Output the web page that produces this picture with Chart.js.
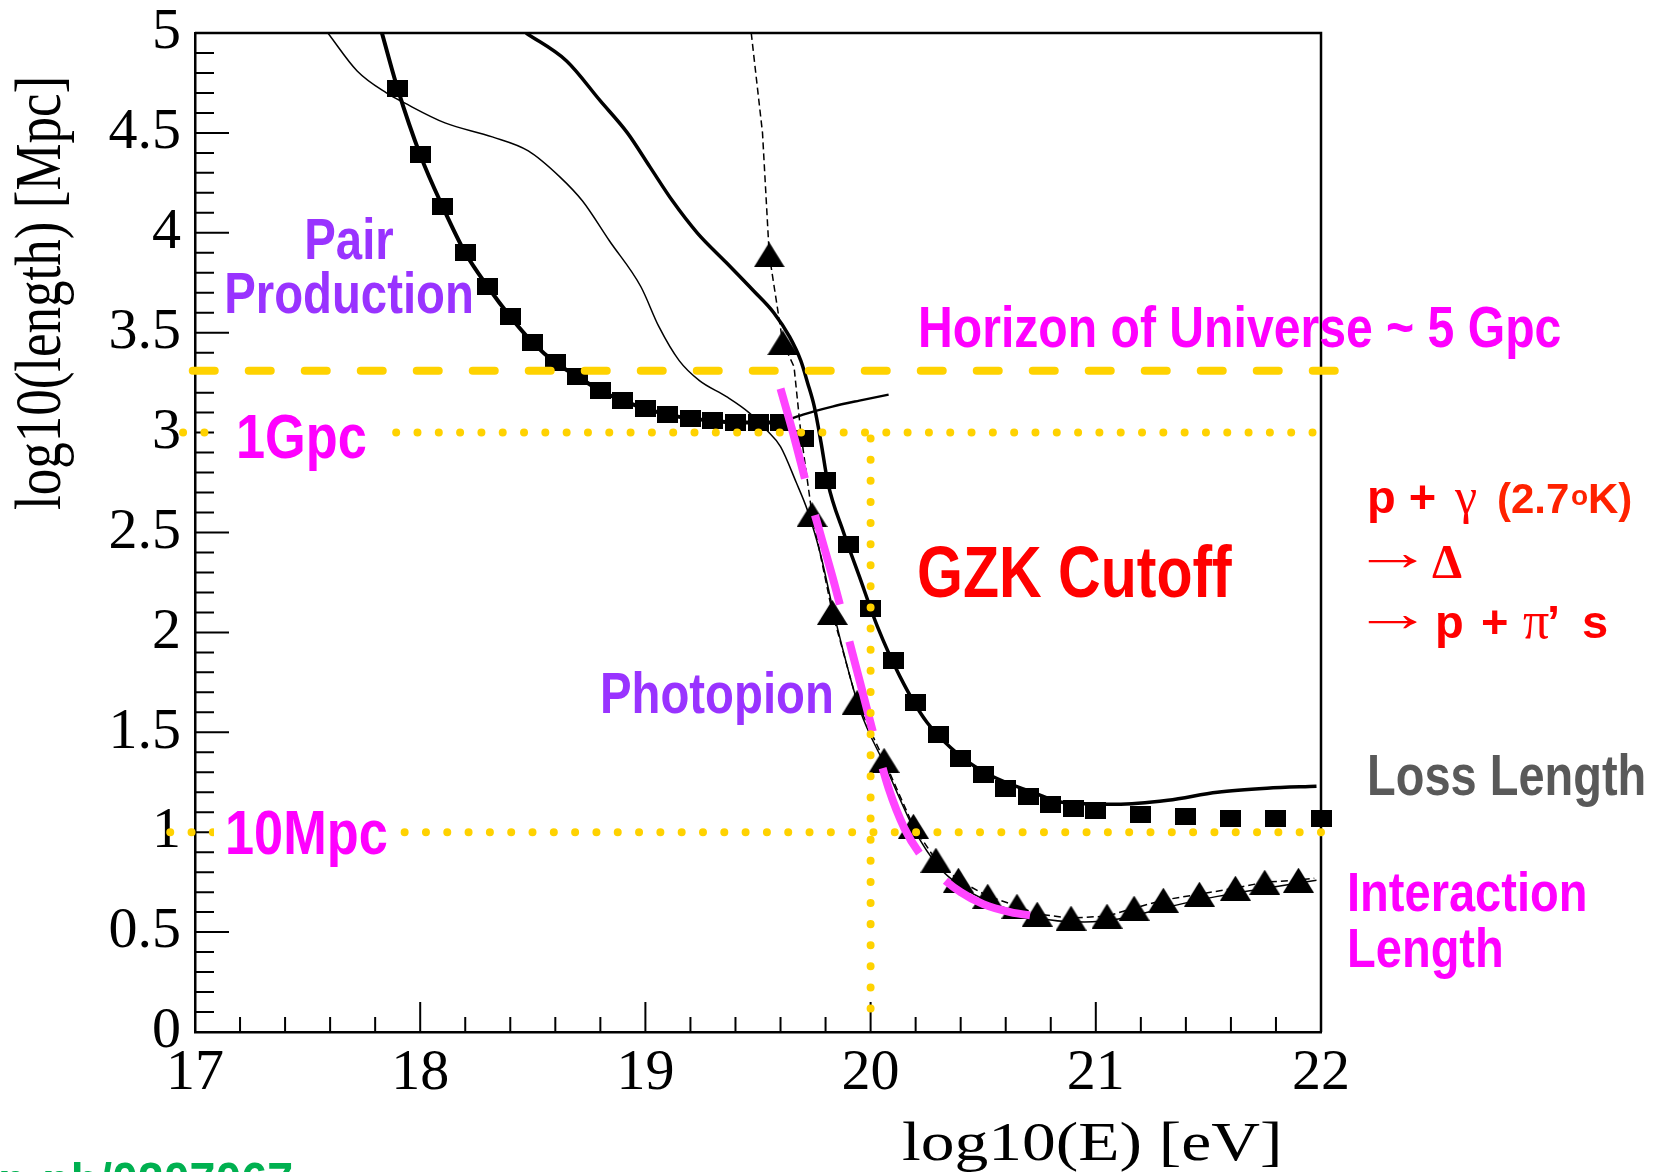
<!DOCTYPE html>
<html>
<head>
<meta charset="utf-8">
<title>GZK cutoff - loss and interaction lengths</title>
<script src="https://cdn.jsdelivr.net/npm/chart.js@4.4.1/dist/chart.umd.min.js"></script>
<style>
    html, body { margin: 0; padding: 0; background: #fff; }
    #wrap { width: 1665px; height: 1172px; }
</style>
</head>
<body>
<div id="wrap"><canvas id="gzkChart" width="1665" height="1172"></canvas></div>
<script>
// Axis ticks
const xTickValues = [17, 18, 19, 20, 21, 22];
const xTickLabels = ['17', '18', '19', '20', '21', '22'];
const yTickValues = [0, 0.5, 1, 1.5, 2, 2.5, 3, 3.5, 4, 4.5, 5];
const yTickLabels = ['0', '0.5', '1', '1.5', '2', '2.5', '3', '3.5', '4', '4.5', '5'];

// Energy loss length, square markers (log10 E, log10 L)
const lossSquareE = [17.9, 18.0, 18.1, 18.2, 18.3, 18.4, 18.5, 18.6, 18.7, 18.8, 18.9, 19.0, 19.1, 19.2, 19.3, 19.4,
    19.5, 19.6, 19.7, 19.8, 19.9, 20.0, 20.1, 20.2, 20.3, 20.4, 20.5, 20.6, 20.7, 20.8, 20.9, 21.0,
    21.2, 21.4, 21.6, 21.8, 22.0];
const lossSquareL = [4.72, 4.39, 4.13, 3.90, 3.73, 3.58, 3.45, 3.35, 3.28, 3.21, 3.16, 3.12, 3.09, 3.07, 3.06, 3.05,
    3.05, 3.05, 2.97, 2.76, 2.44, 2.12, 1.86, 1.65, 1.49, 1.37, 1.29, 1.22, 1.18, 1.14, 1.12, 1.11,
    1.09, 1.08, 1.07, 1.07, 1.07];

// Pair production loss curve: entry at the top and the rising tail after the plateau
const pairEntryE = [17.83];
const pairEntryL = [5.0];
const pairTailE = [19.6, 19.7, 19.83, 19.95, 20.08];
const pairTailL = [3.05, 3.09, 3.13, 3.16, 3.19];

// Photopion loss length (solid line)
const photoLossE = [18.47, 18.65, 18.80, 18.92, 19.02, 19.12, 19.23, 19.36, 19.48, 19.57, 19.64, 19.69, 19.72,
    19.75, 19.78, 19.81, 19.88, 19.95, 20.03, 20.13, 20.25, 20.40, 20.54, 20.72, 20.85, 21.09, 21.32,
    21.54, 21.76, 21.98];
const photoLossL = [5.0, 4.86, 4.66, 4.50, 4.33, 4.16, 4.00, 3.85, 3.71, 3.60, 3.48, 3.36, 3.25,
    3.13, 2.95, 2.75, 2.50, 2.28, 2.03, 1.78, 1.55, 1.38, 1.28, 1.20, 1.15, 1.14, 1.16,
    1.20, 1.22, 1.23];

// Thin solid line
const thinE = [17.59, 17.72, 17.85, 17.93, 18.11, 18.32, 18.48, 18.62, 18.72, 18.84, 18.98, 19.06, 19.15, 19.24,
    19.36, 19.46, 19.54, 19.60, 19.67, 19.72, 19.78, 19.84, 19.95, 20.07, 20.20, 20.30, 20.40, 20.53,
    20.66, 20.80, 20.95, 21.10, 21.30, 21.50, 21.70, 21.98];
const thinL = [5.0, 4.81, 4.70, 4.65, 4.55, 4.48, 4.41, 4.28, 4.16, 3.96, 3.73, 3.53, 3.36, 3.26,
    3.18, 3.10, 3.01, 2.93, 2.75, 2.61, 2.38, 2.08, 1.62, 1.32, 1.00, 0.83, 0.73, 0.65,
    0.60, 0.56, 0.55, 0.565, 0.62, 0.67, 0.71, 0.76];

// Interaction length, triangle markers
const interTriE = [19.55, 19.61, 19.74, 19.83, 19.94, 20.06, 20.19, 20.29, 20.39, 20.52, 20.65, 20.74, 20.89,
    21.05, 21.17, 21.30, 21.46, 21.62, 21.75, 21.90];
const interTriL = [3.89, 3.45, 2.59, 2.10, 1.65, 1.36, 1.03, 0.86, 0.76, 0.68, 0.63, 0.59, 0.57,
    0.58, 0.62, 0.66, 0.69, 0.72, 0.75, 0.76];

// Dashed line through the triangles
const dashE = [19.47, 19.52, 19.55, 19.61, 19.66, 19.69, 19.74, 19.83, 19.94, 20.06, 20.19, 20.29, 20.39,
    20.52, 20.65, 20.74, 20.89, 21.05, 21.17, 21.30, 21.46, 21.62, 21.75, 21.90, 21.97];
const dashL = [5.0, 4.50, 3.89, 3.45, 3.33, 3.00, 2.59, 2.10, 1.65, 1.36, 1.03, 0.86, 0.76,
    0.68, 0.63, 0.59, 0.57, 0.58, 0.62, 0.66, 0.69, 0.72, 0.75, 0.76, 0.77];

// Magenta guide along the photopion drop
const gzkGuideE = [19.60, 19.66, 19.72, 19.78, 19.84, 19.90, 19.96, 20.02, 20.08, 20.15, 20.22, 20.30, 20.40,
    20.50, 20.62, 20.73];
const gzkGuideL = [3.22, 2.98, 2.72, 2.48, 2.24, 1.98, 1.72, 1.46, 1.22, 1.02, 0.89, 0.79, 0.70,
    0.64, 0.60, 0.58];

// Reference lines
const horizonE = [16.99, 22.08];
const horizonL = [3.31, 3.31];
const gpcE = [16.947, 21.97];
const gpcL = [3.0, 3.0];
const mpcE = [16.89, 22.03];
const mpcL = [1.0, 1.0];
const cutoffE = [20.0, 20.0];
const cutoffL = [2.97, 0.08];

const pts = (xs, ys) => xs.map((x, i) => ({ x: x, y: ys[i] }));

// Marker images (the plot is wider than tall, so markers are too)
function makeMarker(kind, w, h) {
    const c = document.createElement('canvas');
    c.width = w;
    c.height = h;
    const g = c.getContext('2d');
    g.fillStyle = '#000';
    if (kind === 'rect') {
        g.fillRect(0, 0, w, h);
    } else {
        g.beginPath();
        g.moveTo(w / 2, 0);
        g.lineTo(w, h);
        g.lineTo(0, h);
        g.closePath();
        g.fill();
    }
    return c;
}

const colors = {
    yellow: '#FFD200',
    magentaLine: '#FF44FF',
    magenta: '#FF00FF',
    purple: '#9933FF',
    red: '#FF0000',
    gray: '#595959',
    green: '#00B050'
};

const SANS = '"Liberation Sans", Arial, sans-serif';
const SERIF = '"Liberation Serif", "Times New Roman", serif';

function drawText(ctx, text, x, y, font, color, sx, align) {
    ctx.save();
    ctx.font = font;
    ctx.fillStyle = color;
    ctx.textBaseline = 'alphabetic';
    ctx.textAlign = align || 'left';
    ctx.translate(x, y);
    ctx.scale(sx || 1, 1);
    ctx.fillText(text, 0, 0);
    ctx.restore();
}

const frameAndLabels = {
    id: 'frameAndLabels',
    beforeDatasetsDraw(chart) {
        const { ctx, chartArea: a, scales } = chart;
        const x = scales.x, y = scales.y;
        ctx.save();
        ctx.strokeStyle = '#000';
        ctx.lineWidth = 2;
        ctx.beginPath();
        // inward ticks on the left axis
        for (let i = 0; i <= 50; i++) {
            const py = y.getPixelForValue(i / 10);
            const len = i % 5 === 0 ? 34 : 19;
            ctx.moveTo(a.left, py);
            ctx.lineTo(a.left + len, py);
        }
        // inward ticks on the bottom axis
        for (let i = 0; i <= 25; i++) {
            const px = x.getPixelForValue(17 + i * 0.2);
            const len = i % 5 === 0 ? 30 : 15;
            ctx.moveTo(px, a.bottom);
            ctx.lineTo(px, a.bottom - len);
        }
        ctx.stroke();
        ctx.lineWidth = 2.5;
        ctx.beginPath();
        ctx.moveTo(a.left, a.top);
        ctx.lineTo(a.right, a.top);
        ctx.lineTo(a.right, a.bottom);
        ctx.stroke();
        ctx.restore();
    },
    afterDatasetsDraw(chart) {
        const ctx = chart.ctx;

        // white patches behind the distance labels
        ctx.save();
        ctx.fillStyle = '#fff';
        ctx.fillRect(214, 408, 172, 56);
        ctx.fillRect(214, 804, 186, 56);
        ctx.restore();

        const bold = (s) => 'bold ' + s + 'px ' + SANS;

        drawText(ctx, 'Pair', 349, 259, bold(57), colors.purple, 0.83, 'center');
        drawText(ctx, 'Production', 349, 313, bold(57), colors.purple, 0.83, 'center');
        drawText(ctx, 'Photopion', 600, 713, bold(57), colors.purple, 0.83);

        drawText(ctx, 'Horizon of Universe ~ 5 Gpc', 918, 347, bold(58), colors.magenta, 0.83);
        drawText(ctx, '1Gpc', 236, 458, bold(63), colors.magenta, 0.83);
        drawText(ctx, '10Mpc', 225, 854, bold(63), colors.magenta, 0.83);

        drawText(ctx, 'GZK Cutoff', 917, 597, bold(72), colors.red, 0.82);

        // reaction
        drawText(ctx, 'p +', 1367, 513, bold(47), colors.red, 1);
        drawText(ctx, '\u03B3', 1455, 513, '50px ' + SERIF, colors.red, 1);
        drawText(ctx, '(2.7', 1497, 513, bold(42), '#FF2200', 1);
        drawText(ctx, 'o', 1571, 505, bold(28), '#FF2200', 1);
        drawText(ctx, 'K)', 1588, 513, bold(42), '#FF2200', 1);

        drawText(ctx, '\u2192', 1352, 570, '52px ' + SERIF, colors.red, 1.55);
        drawText(ctx, '\u0394', 1432, 578, 'bold 48px ' + SERIF, colors.red, 1);

        drawText(ctx, '\u2192', 1352, 631, '52px ' + SERIF, colors.red, 1.55);
        drawText(ctx, 'p', 1435, 638, bold(47), colors.red, 1);
        drawText(ctx, '+', 1481, 638, bold(47), colors.red, 1);
        drawText(ctx, '\u03C0', 1523, 638, '52px ' + SERIF, colors.red, 1);
        drawText(ctx, '\u2019', 1547, 638, bold(47), colors.red, 1);
        drawText(ctx, 's', 1582, 638, bold(47), colors.red, 1);

        drawText(ctx, 'Loss Length', 1367, 795, bold(58), colors.gray, 0.81);
        drawText(ctx, 'Interaction', 1347, 911, bold(56), colors.magenta, 0.84);
        drawText(ctx, 'Length', 1347, 967, bold(56), colors.magenta, 0.84);

        drawText(ctx, 'hep-ph/0207067', 293, 1198, bold(50), colors.green, 0.93, 'right');

        // axis titles
        drawText(ctx, 'log10(E) [eV]', 902, 1160, '54px ' + SERIF, '#000', 1.25);
        ctx.save();
        ctx.translate(60, 510);
        ctx.rotate(-Math.PI / 2);
        ctx.scale(1, 1.22);
        ctx.font = '53px ' + SERIF;
        ctx.fillStyle = '#000';
        ctx.textBaseline = 'alphabetic';
        ctx.fillText('log10(length) [Mpc]', 0, 0);
        ctx.restore();
    }
};

const lineBase = { showLine: true, pointRadius: 0, borderColor: '#000', fill: false };

new Chart(document.getElementById('gzkChart').getContext('2d'), {
    type: 'scatter',
    data: {
        datasets: [
            // yellow reference lines (on top)
            { ...lineBase, data: pts(horizonE, horizonL), borderColor: colors.yellow, borderWidth: 8,
                borderDash: [22, 34], borderCapStyle: 'round', clip: false, order: 0 },
            { ...lineBase, data: pts(gpcE, gpcL), borderColor: colors.yellow, borderWidth: 8,
                borderDash: [0.01, 21.3], borderCapStyle: 'round', clip: false, order: 0 },
            { ...lineBase, data: pts(mpcE, mpcL), borderColor: colors.yellow, borderWidth: 8,
                borderDash: [0.01, 21.3], borderCapStyle: 'round', clip: false, order: 0 },
            { ...lineBase, data: pts(cutoffE, cutoffL), borderColor: colors.yellow, borderWidth: 8,
                borderDash: [0.01, 21.1], borderCapStyle: 'round', clip: false, order: 0 },
            // magenta guide
            { ...lineBase, data: pts(gzkGuideE, gzkGuideL), borderColor: colors.magentaLine, borderWidth: 8,
                borderDash: [93, 38], borderCapStyle: 'butt', cubicInterpolationMode: 'monotone', order: 1 },
            // markers
            { data: pts(lossSquareE, lossSquareL), showLine: false, pointStyle: makeMarker('rect', 21, 17),
                pointRadius: 10, clip: false, order: 2 },
            { data: pts(interTriE, interTriL), showLine: false, pointStyle: makeMarker('tri', 31, 25),
                pointRadius: 10, clip: false, order: 2 },
            // black curves
            { ...lineBase, data: pts(pairEntryE.concat(lossSquareE.slice(0, 18)), pairEntryL.concat(lossSquareL.slice(0, 18))),
                borderWidth: 4, cubicInterpolationMode: 'monotone', order: 3 },
            { ...lineBase, data: pts(pairTailE, pairTailL), borderWidth: 2.5, cubicInterpolationMode: 'monotone', order: 3 },
            { ...lineBase, data: pts(photoLossE, photoLossL), borderWidth: 3.5, cubicInterpolationMode: 'monotone', order: 3 },
            { ...lineBase, data: pts(thinE, thinL), borderWidth: 1.5, cubicInterpolationMode: 'monotone', order: 3 },
            { ...lineBase, data: pts(dashE, dashL), borderWidth: 1.5, borderDash: [7, 4], order: 3 }
        ]
    },
    options: {
        responsive: false,
        animation: false,
        events: [],
        layout: { padding: { left: 0, right: 344, top: 33, bottom: 0 } },
        plugins: { legend: { display: false }, tooltip: { enabled: false } },
        scales: {
            x: {
                type: 'linear',
                min: 17,
                max: 22,
                afterFit: (scale) => { scale.height = 140; },
                afterBuildTicks: (scale) => { scale.ticks = xTickValues.map(v => ({ value: v })); },
                ticks: {
                    callback: (value, index) => xTickLabels[index],
                    font: { family: SERIF, size: 58, lineHeight: 1 },
                    color: '#000',
                    padding: 13,
                    maxRotation: 0,
                    autoSkip: false
                },
                grid: { display: false, drawTicks: false },
                border: { display: true, color: '#000', width: 2.5 }
            },
            y: {
                type: 'linear',
                min: 0,
                max: 5,
                afterFit: (scale) => { scale.width = 195; },
                afterBuildTicks: (scale) => { scale.ticks = yTickValues.map(v => ({ value: v })); },
                ticks: {
                    callback: (value, index) => yTickLabels[index],
                    font: { family: SERIF, size: 58, lineHeight: 0.6 },
                    color: '#000',
                    padding: 14,
                    autoSkip: false
                },
                grid: { display: false, drawTicks: false },
                border: { display: true, color: '#000', width: 2.5 }
            }
        }
    },
    plugins: [frameAndLabels]
});
</script>
</body>
</html>
